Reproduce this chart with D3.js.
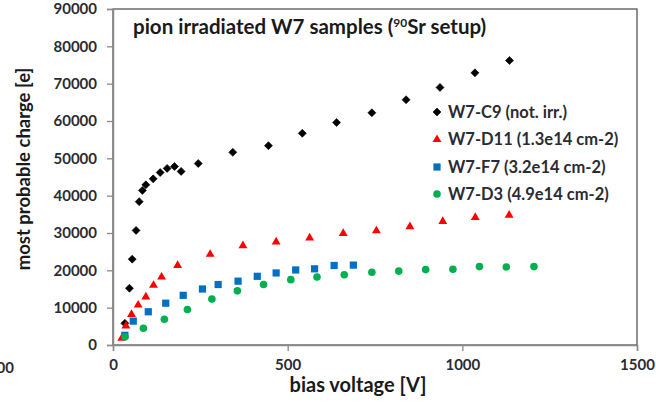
<!DOCTYPE html>
<html><head><meta charset="utf-8">
<script src="https://cdn.jsdelivr.net/npm/d3@7"></script>
<style>
html,body{margin:0;padding:0;background:#fff;}
svg text{font-family:Lato,"Open Sans",sans-serif;font-weight:bold;}
</style></head>
<body><svg id="c" width="656" height="402"></svg>
<script>
// ---- data ----
const xTicks = [0, 500, 1000, 1500];
const yTicks = [0,10000,20000,30000,40000,50000,60000,70000,80000,90000];
const seriesNames = ["W7-C9 (not. irr.)","W7-D11 (1.3e14 cm-2)","W7-F7 (3.2e14 cm-2)","W7-D3 (4.9e14 cm-2)"];
const c9V = [34,47,55,66,75,84,94,115,135,155,176,195,244,343,445,542,640,741,839,936,1036,1135];
const c9Q = [5800,15200,23000,30700,38400,41400,42900,44500,46200,47300,47800,46500,48600,51600,53400,56700,59600,62200,65700,69000,72900,76200];
const d11V = [25,37,53,72,94,116,139,185,278,372,467,563,659,754,850,944,1037,1134];
const d11Q = [1800,5100,8200,10700,12900,16000,18200,21300,24300,26600,27600,28700,29900,30600,31700,33100,34200,34800];
const f7V = [34,58,101,151,201,256,301,358,413,467,523,577,633,688];
const f7Q = [2600,6400,8900,11200,13300,15000,16200,17100,18400,19300,20100,20400,21300,21400];
const d3V = [34,87,147,213,283,356,431,509,584,662,741,818,895,973,1049,1126,1205];
const d3Q = [2200,4500,6900,9500,12300,14500,16200,17500,18200,18800,19500,19800,20200,20300,21000,20900,21000];

const svg = d3.select("#c");
const L=113, R=637, T=9, B=345;
const x = d3.scaleLinear().domain([0,1500]).range([L,R]);
const y = d3.scaleLinear().domain([0,90000]).range([B,T]);
const txt = "#2b2b33";

// plot border
svg.append("rect").attr("x",L).attr("y",T).attr("width",R-L).attr("height",B-T)
  .attr("fill","none").attr("stroke","#555").attr("stroke-width",1.3);

// axes
const yAx = svg.append("g").attr("transform",`translate(${L},0)`)
  .call(d3.axisLeft(y).tickValues(yTicks).tickSize(6).tickPadding(10).tickFormat(d3.format("d")));
const xAx = svg.append("g").attr("transform",`translate(0,${B})`)
  .call(d3.axisBottom(x).tickValues(xTicks).tickSize(6).tickPadding(10).tickFormat(d3.format("d")));
[yAx,xAx].forEach(g=>{
  g.selectAll("path.domain").attr("stroke","#8a8a8a").attr("stroke-width",1.5);
  g.selectAll(".tick line").attr("stroke","#8a8a8a").attr("stroke-width",1.3);
  g.selectAll("text").attr("fill",txt).style("font-size","15px").style("font-family","Lato").style("font-weight","bold");
});
yAx.selectAll("text").attr("x",-16);
xAx.selectAll("text").attr("y",14);

// cut-off label at left (partial label visible at the edge of the original)
svg.append("text").attr("x",14).attr("y",373).attr("text-anchor","end")
  .attr("fill",txt).style("font-size","15px").text("00");

// titles
svg.append("text").attr("x",133).attr("y",34).attr("fill","#1a1a1a").style("font-size","20.5px")
  .html('pion irradiated W7 samples (<tspan style="font-size:12px" dy="-7">90</tspan><tspan dy="7">Sr setup)</tspan>');
svg.append("text").attr("x",358).attr("y",392).attr("text-anchor","middle").attr("fill","#1a1a1a")
  .style("font-size","20px").text("bias voltage [V]");
svg.append("text").attr("transform","translate(30,169) rotate(-90)").attr("text-anchor","middle")
  .attr("fill","#1a1a1a").style("font-size","18.5px").text("most probable charge [e]");

// markers
const colors = ["#000000","#ff0000","#0070c0","#00b050"];
function drawMarker(g, k){
  if(k===0) return g.append("path").attr("d","M0,-4L4,0L0,4L-4,0Z").attr("fill",colors[0]).attr("stroke",colors[0]).attr("stroke-width",0.6);
  if(k===1) return g.append("path").attr("d",d3.symbol(d3.symbolTriangle,34)()).attr("fill",colors[1]);
  if(k===2) return g.append("rect").attr("x",-3.6).attr("y",-3.6).attr("width",7.2).attr("height",7.2).attr("fill",colors[2]);
  return g.append("circle").attr("r",3.8).attr("fill",colors[3]);
}
const all = [[c9V,c9Q],[d11V,d11Q],[f7V,f7Q],[d3V,d3Q]];
all.forEach(([vs,qs],k)=>{
  const g = svg.append("g");
  vs.forEach((v,i)=>{
    const m = g.append("g").attr("transform",`translate(${x(v)},${y(qs[i])})`);
    drawMarker(m,k);
  });
});

// legend
const legY = [112,139.5,167,194];
seriesNames.forEach((n,k)=>{
  const m = svg.append("g").attr("transform",`translate(437,${legY[k]})`);
  drawMarker(m,k);
  svg.append("text").attr("x",448).attr("y",legY[k]).attr("dy","0.35em").attr("fill",txt)
    .style("font-size","16.5px").text(n);
});
</script></body></html>
